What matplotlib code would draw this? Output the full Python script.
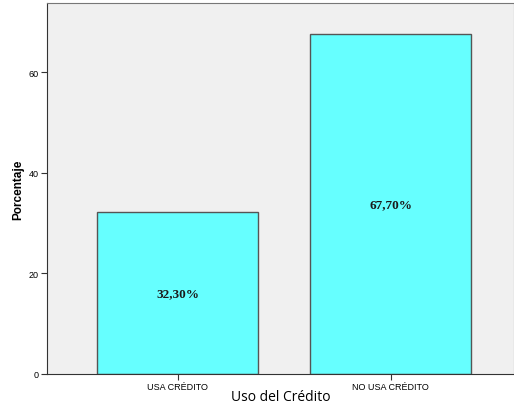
import matplotlib.pyplot as plt

categories = ['USA CRÉDITO', 'NO USA CRÉDITO']
porcentajes = [32.3, 67.7]
etiquetas = ['32,30%', '67,70%']

fig = plt.figure(figsize=(5.14, 4.06), dpi=100)
ax = fig.add_axes([0.0914, 0.0764, 0.9086, 0.9138])
ax.set_facecolor('#f0f0f0')

x = list(range(len(categories)))
ax.bar(x, porcentajes, width=0.756, color='#66ffff', edgecolor='#555555', linewidth=1)

# percent labels centered inside each bar
for xi, v, lab in zip(x, porcentajes, etiquetas):
    ax.text(xi, v / 2, lab, ha='center', va='center', fontsize=9.5,
            fontweight='bold', family='Liberation Serif', color='#1a1a1a')

ax.set_xlim(-0.615, 1.58)
ax.set_ylim(0, 73.8)
ax.set_yticks([0, 20, 40, 60])
ax.set_xticks(x)
ax.set_xticklabels(categories, family='Liberation Sans', fontsize=6.5)
ax.tick_params(axis='y', labelsize=6.5, length=4, color='#333333', pad=2)
ax.tick_params(axis='x', length=4, color='#333333', pad=2)
for lbl in ax.get_yticklabels():
    lbl.set_family('Liberation Sans')

for s in ax.spines.values():
    s.set_color('#777777')
ax.spines['left'].set_color('#333333')
ax.spines['bottom'].set_color('#333333')

ax.set_ylabel('Porcentaje', family='Liberation Sans', fontweight='bold', fontsize=8.5, labelpad=3)
ax.set_xlabel('Uso del Crédito', family='Open Sans', fontsize=10, labelpad=-2)

fig.savefig('out.png', dpi=100)
